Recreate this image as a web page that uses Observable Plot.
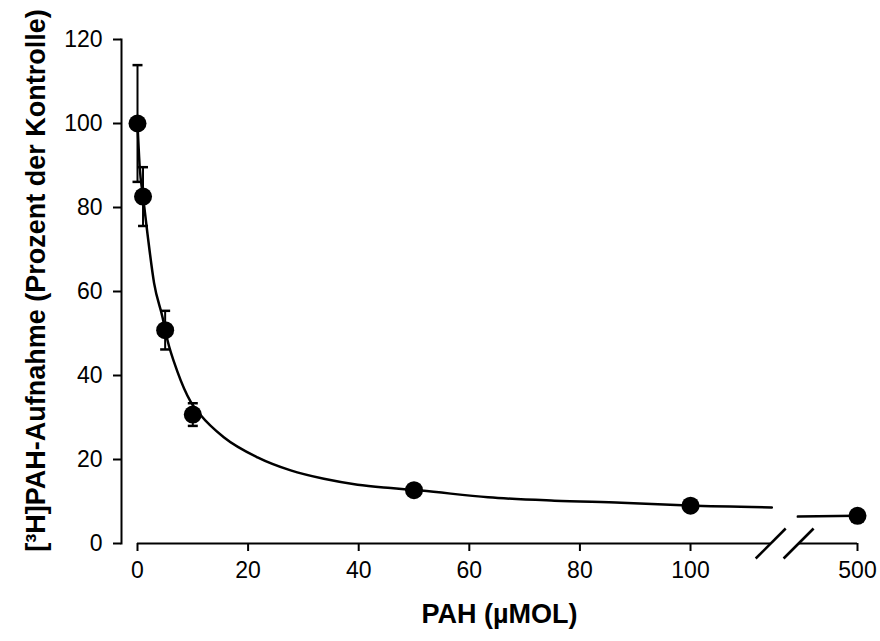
<!DOCTYPE html>
<html><head><meta charset="utf-8">
<script src="https://cdn.jsdelivr.net/npm/d3@7"></script>
<script src="https://cdn.jsdelivr.net/npm/@observablehq/plot@0.6"></script>
<style>body{margin:0;background:#fff}</style>
</head><body><div id="chart"></div>
<script>
// Measured data (PAH concentration in µmol, uptake in % of control)
const concentrations = [0, 1, 5, 10, 50, 100, 500];
const uptake = [100, 82.6, 50.8, 30.7, 12.7, 9.0, 6.6];
const uptakeSD = [13.9, 7.0, 4.6, 2.7, 1.0, 0.8, 0.6];

// Fitted curve (left and right of the axis break)
const fitX = [0, 0.4, 1, 1.8, 3, 4.5, 5.4, 7.2, 9.6, 11.4, 15.6, 21.7, 27.7, 33.7, 39.8, 45.8, 51.3, 63.4, 75.4, 87.5, 99.6, 114.7];
const fitY = [100, 89.6, 82.6, 73.8, 62, 54, 48.5, 41, 33.8, 30.6, 25.3, 20.5, 17.4, 15.4, 14.0, 13.2, 12.6, 11.0, 10.2, 9.7, 9.05, 8.6];
const fitX2 = [484.5, 500];
const fitY2 = [6.4, 6.6];

// Axis
const xTicks = [0, 20, 40, 60, 80, 100, 500];
const yTicks = [0, 20, 40, 60, 80, 100, 120];
const xAxisStart = [0, 484.7];
const xAxisEnd = [114.5, 500];
const breaks = [114.5, 484.7];

const xLabel = "PAH (µMOL)";
const yLabel = "[³H]PAH-Aufnahme (Prozent der Kontrolle)";

const points = concentrations.map((c, i) => ({x: c, y: uptake[i], lo: uptake[i] - uptakeSD[i], hi: uptake[i] + uptakeSD[i]}));
const fit1 = fitX.map((x, i) => ({x, y: fitY[i]}));
const fit2 = fitX2.map((x, i) => ({x, y: fitY2[i]}));
const axisSegs = xAxisStart.map((s, i) => ({x1: s, x2: xAxisEnd[i]}));

const capSymbol = {draw(ctx, size) { const r = Math.sqrt(size / Math.PI); ctx.moveTo(-r, 0); ctx.lineTo(r, 0); }};
const slashSymbol = {draw(ctx, size) { const r = Math.sqrt(size / Math.PI); ctx.moveTo(-r, r); ctx.lineTo(r, -r); }};

const font = "'Liberation Sans', Arial, sans-serif";

const chart = Plot.plot({
  width: 880,
  height: 641,
  marginLeft: 121,
  marginRight: 23,
  marginTop: 39,
  marginBottom: 98,
  style: {fontFamily: font, background: "white", color: "black"},
  x: {type: "linear", domain: [0, 116, 480, 500], range: [137, 778.5, 780, 857]},
  y: {domain: [0, 120]},
  marks: [
    Plot.frame({anchor: "left", stroke: "black", strokeWidth: 2}),
    Plot.axisY({ticks: yTicks, tickSize: 8, tickPadding: 11, fontSize: 23, label: null, tickFormat: d => d, strokeWidth: 2}),
    Plot.axisX({ticks: xTicks, tickSize: 8, tickPadding: 10, fontSize: 23, label: null, tickFormat: d => d, strokeWidth: 2}),
    Plot.ruleY(axisSegs, {y: 0, x1: "x1", x2: "x2", stroke: "black", strokeWidth: 2}),
    Plot.dot(breaks, {x: d => d, y: 0, symbol: slashSymbol, r: 15, stroke: "black", strokeWidth: 2.5, fill: "none"}),
    Plot.line(fit1, {x: "x", y: "y", curve: "monotone-x", stroke: "black", strokeWidth: 2.5}),
    Plot.line(fit2, {x: "x", y: "y", stroke: "black", strokeWidth: 2.5}),
    Plot.ruleX(points, {x: "x", y1: "lo", y2: "hi", stroke: "black", strokeWidth: 2}),
    Plot.dot(points, {x: "x", y: "lo", symbol: capSymbol, r: 5, stroke: "black", strokeWidth: 2.5, fill: "none"}),
    Plot.dot(points, {x: "x", y: "hi", symbol: capSymbol, r: 5, stroke: "black", strokeWidth: 2.5, fill: "none"}),
    Plot.dot(points, {x: "x", y: "y", r: 9, fill: "black", stroke: "none"}),
    Plot.text([yLabel], {text: d => d, frameAnchor: "left", textAnchor: "middle", rotate: -90, dx: -85, dy: -11, fontSize: 27, fontWeight: "bold", fill: "black"}),
    Plot.text([xLabel], {text: d => d, frameAnchor: "bottom", textAnchor: "middle", dx: 10, dy: 79, fontSize: 27, fontWeight: "bold", fill: "black"})
  ]
});
document.getElementById("chart").appendChild(chart);
</script>
</body></html>
